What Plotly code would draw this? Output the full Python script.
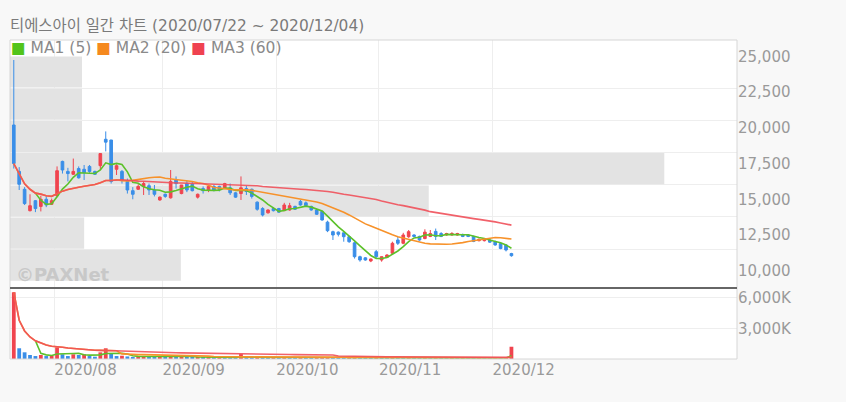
import plotly.graph_objects as go
import pandas as pd

# ---------------- data ----------------
title_text = "티에스아이 일간 차트 (2020/07/22 ~ 2020/12/04)"

trading_days = {
    "2020/07": [22, 23, 24, 27, 28, 29, 30, 31],
    "2020/08": [3, 4, 5, 6, 7, 10, 11, 12, 13, 14, 18, 19, 20, 21, 24, 25, 26, 27, 28, 31],
    "2020/09": [1, 2, 3, 4, 7, 8, 9, 10, 11, 14, 15, 16, 17, 18, 21, 22, 23, 24, 25, 28, 29],
    "2020/10": [5, 6, 7, 8, 12, 13, 14, 15, 16, 19, 20, 21, 22, 23, 26, 27, 28, 29, 30],
    "2020/11": [2, 3, 4, 5, 6, 9, 10, 11, 12, 13, 16, 17, 18, 19, 20, 23, 24, 25, 26, 27, 30],
    "2020/12": [1, 2, 3, 4],
}

opens = [20200, 16950, 15700, 14200, 14900, 14500, 15000, 14650, 15250, 17650,
         16950, 16750, 17150, 17100, 17300, 16950, 17350, 19200, 19150, 17100,
         16950, 16250, 15600, 15700, 15900, 15950, 15650, 14950, 15350, 15100,
         16350, 15400, 16100, 16050, 15150, 15750, 15650, 15900, 15900, 15800,
         15800, 15450, 15400, 15750, 15700, 14800, 14350, 14050, 14350, 14350,
         14200, 14250, 14500, 14850, 14750, 14500, 14250, 14150, 13400, 12730,
         12700, 12650, 12380, 11950, 10980, 10900, 10680, 11330, 10750, 10940,
         11220, 12150, 11920, 12380, 12500, 12400, 12250, 12400, 12750, 12600,
         12500, 12500, 12500, 12500, 12500, 12400, 12100, 12100, 12150, 12050,
         11900, 11800, 11200]
highs = [24750, 17250, 15850, 15350, 14950, 15250, 15250, 15050, 17300, 17700,
         17200, 17850, 17300, 17400, 17400, 17000, 18200, 19750, 19150, 17450,
         17050, 16450, 15850, 16050, 16250, 16100, 16000, 15200, 15400, 17050,
         16600, 16000, 16300, 16250, 15400, 15900, 15950, 16000, 15950, 16150,
         16100, 15500, 16600, 15950, 15750, 14850, 14450, 14300, 14450, 14400,
         14750, 14750, 14550, 14950, 14850, 14550, 14300, 14200, 13500, 12800,
         12750, 12650, 12450, 12050, 11050, 10950, 10850, 11450, 11000, 11150,
         12030, 12380, 12650, 12850, 12550, 12450, 12900, 12850, 12950, 12700,
         12650, 12700, 12650, 12600, 12550, 12450, 12250, 12250, 12200, 12100,
         11950, 11850, 11250]
lows = [17150, 15650, 14600, 14150, 14100, 14150, 14450, 14600, 15150, 16800,
        16250, 16700, 16450, 16350, 16850, 16700, 17050, 18350, 16100, 16700,
        16100, 15400, 15000, 15650, 15300, 15300, 15200, 14900, 15100, 15050,
        15750, 15350, 15500, 15550, 15050, 15400, 15500, 15550, 15550, 15700,
        15300, 15100, 14950, 15300, 15050, 14200, 13800, 14000, 14150, 14050,
        14180, 14200, 14250, 14550, 14500, 14200, 13900, 13500, 12700, 12150,
        12400, 12030, 11950, 10850, 10630, 10700, 10600, 10870, 10630, 10900,
        11170, 11800, 11850, 12300, 12350, 12100, 12200, 12350, 12150, 12350,
        12450, 12450, 12450, 12350, 12350, 12000, 12050, 12050, 11950, 11750,
        11500, 11350, 10980]
closes = [17500, 16050, 14700, 14550, 14350, 15000, 14600, 14900, 17000, 17050,
          16800, 16950, 16500, 16850, 16950, 16750, 18200, 19000, 16250, 17350,
          16350, 15650, 15350, 15900, 16100, 15650, 15350, 15150, 15200, 16250,
          16100, 16000, 15650, 15600, 15350, 15600, 15900, 15650, 15700, 16100,
          15450, 15150, 15800, 15550, 15200, 14300, 13900, 14250, 14200, 14100,
          14600, 14550, 14300, 14600, 14550, 14250, 13950, 13550, 12800, 12500,
          12550, 12380, 12030, 10980, 10750, 10750, 10820, 10980, 10980, 11100,
          11920, 11920, 12500, 12730, 12400, 12150, 12700, 12600, 12400, 12400,
          12600, 12600, 12600, 12400, 12400, 12050, 12200, 12200, 12000, 11800,
          11550, 11450, 11050]
# volume in thousands of shares
volumes = [6530, 1050, 655, 390, 290, 390, 290, 360, 1145, 460,
           290, 460, 390, 460, 290, 225, 650, 1050, 490, 290,
           320, 250, 200, 240, 300, 220, 180, 260, 200, 380,
           220, 250, 200, 160, 180, 150, 170, 140, 160, 150,
           140, 130, 480, 170, 150, 160, 140, 130, 150, 120,
           140, 130, 120, 140, 130, 120, 140, 150, 160, 140,
           130, 120, 140, 170, 150, 130, 120, 140, 130, 120,
           150, 140, 130, 140, 120, 110, 130, 120, 140, 110,
           100, 110, 100, 120, 110, 100, 120, 110, 100, 110,
           100, 120, 1200]

# price-volume profile (7 price bands, thousands of shares)
profile_edges = [9250, 11500, 13760, 16010, 18270, 20520, 22780, 25030]
profile_volume = [2350, 1020, 5760, 9000, 990, 990, 990]
profile_scale_max = 10000

price_ticks = [10000, 12500, 15000, 17500, 20000, 22500, 25000]
volume_ticks = [3000, 6000]
volume_ticktext = ["3,000K", "6,000K"]

ma_names = ["MA1 (5)", "MA2 (20)", "MA3 (60)"]

# ---------------- styles ----------------
RED = "#f0444f"
BLUE = "#3a8ee8"
MA_COLORS = ["#5cc12a", "#f7922a", "rgba(240,80,90,0.9)"]
LEGEND_COLORS = ["#52c41a", "#f5891e", "#ef4250"]
FONT = "DejaVu Sans, Noto Sans CJK KR, sans-serif"
XR = [-0.7, 133.7]

dates, month_first = [], []
for m, days in trading_days.items():
    month_first.append((m, len(dates)))
    dates += [f"{m}/{d:02d}" for d in days]
xs = list(range(len(dates)))
tickvals = [i - 0.5 for m, i in month_first[1:]]
ticktext = [m for m, i in month_first[1:]]

close_s = pd.Series(closes, dtype=float)
vol_s = pd.Series(volumes, dtype=float)


def mas(s):
    return [s.rolling(5).mean(), s.rolling(20, min_periods=1).mean(), s.rolling(60, min_periods=1).mean()]


fig = go.Figure()

# profile bars
span = XR[1] - XR[0]
centers = [(a + b) / 2 for a, b in zip(profile_edges[:-1], profile_edges[1:])]
widths = [(b - a) * 0.965 for a, b in zip(profile_edges[:-1], profile_edges[1:])]
fig.add_trace(go.Bar(
    y=centers, x=[v / profile_scale_max * span for v in profile_volume], base=XR[0],
    orientation="h", width=widths, marker=dict(color="#e3e3e3", line=dict(width=0)),
    xaxis="x", yaxis="y", showlegend=False, hoverinfo="skip"))

fig.add_trace(go.Candlestick(
    x=xs, open=opens, high=highs, low=lows, close=closes,
    increasing=dict(line=dict(color=RED, width=1), fillcolor=RED),
    decreasing=dict(line=dict(color=BLUE, width=1), fillcolor=BLUE),
    whiskerwidth=0, xaxis="x", yaxis="y", showlegend=False))

for s, c, n in zip(mas(close_s), MA_COLORS, ma_names):
    fig.add_trace(go.Scatter(x=xs, y=s, mode="lines", line=dict(color=c, width=1.6),
                             name=n, xaxis="x", yaxis="y", showlegend=False))

vcolors = [RED if i == 0 or volumes[i] > volumes[i - 1] else BLUE for i in range(len(volumes))]
fig.add_trace(go.Bar(x=xs, y=volumes, marker=dict(color=vcolors, line=dict(width=0)),
                     width=0.7, xaxis="x", yaxis="y2", showlegend=False))
for s, c, n in zip(mas(vol_s), MA_COLORS, ma_names):
    fig.add_trace(go.Scatter(x=xs, y=s, mode="lines", line=dict(color=c, width=1.6),
                             name=n, xaxis="x", yaxis="y2", showlegend=False))

VDOM = 71 / 319
TICKFONT = dict(family=FONT, size=15, color="#9a9a9a")
fig.update_layout(
    width=846, height=402,
    margin=dict(l=10, r=109, t=40, b=43),
    paper_bgcolor="#f8f8f8", plot_bgcolor="#ffffff",
    font=dict(family=FONT, color="#999999", size=15),
    title=dict(text=title_text, x=10 / 846, xanchor="left", xref="container",
               y=1 - 26 / 402, yanchor="middle",
               font=dict(family=FONT, size=15.4, color="#7a7a7a")),
    showlegend=False,
    bargap=0.3,
    xaxis=dict(range=XR, tickmode="array", tickvals=tickvals, ticktext=ticktext,
               showgrid=True, gridcolor="#eeeeee", gridwidth=1, zeroline=False,
               ticks="", ticklabelposition="outside right", anchor="y2",
               rangeslider=dict(visible=False), showline=False, tickfont=TICKFONT),
    yaxis=dict(domain=[VDOM, 1], range=[8789, 26149], side="right",
               tickmode="array", tickvals=price_ticks, tickformat=",",
               showgrid=False, zeroline=False, ticks="",
               minor=dict(tickmode="array", tickvals=profile_edges[1:-1], showgrid=True,
                          gridcolor="#eeeeee", gridwidth=1, ticks=""),
               tickfont=TICKFONT, anchor="x"),
    yaxis2=dict(domain=[0, VDOM], range=[0, 6947], side="right",
                tickmode="array", tickvals=volume_ticks, ticktext=volume_ticktext,
                showgrid=True, gridcolor="#eeeeee", zeroline=False, ticks="",
                tickfont=TICKFONT, anchor="x"),
    shapes=[
        dict(type="rect", xref="paper", yref="paper", x0=0, x1=1, y0=0, y1=1,
             line=dict(color="#d6d6d6", width=1), layer="above"),
        dict(type="line", xref="paper", yref="y2 domain", x0=0, x1=1, y0=1, y1=1,
             line=dict(color="#666666", width=2), layer="above"),
    ],
)

legend_html = " ".join(
    f'<span style="color:{c}">■</span> {n}' for c, n in zip(LEGEND_COLORS, ma_names))
fig.add_annotation(text=legend_html, xref="paper", yref="paper", x=0, y=1,
                   xanchor="left", yanchor="middle", yshift=-8, xshift=-1, showarrow=False,
                   font=dict(family=FONT, size=15.5, color="#8a8a8a"))
fig.add_annotation(text="<b>©PAXNet</b>", xref="paper", yref="y domain", x=0, y=0,
                   xanchor="left", yanchor="middle", xshift=4, yshift=14, showarrow=False,
                   font=dict(family=FONT, size=18, color="#c8c8c8"))

fig.write_html("out.html", config={"displayModeBar": False},
               post_script="document.body.style.margin='0';document.body.style.background='#f8f8f8';")
